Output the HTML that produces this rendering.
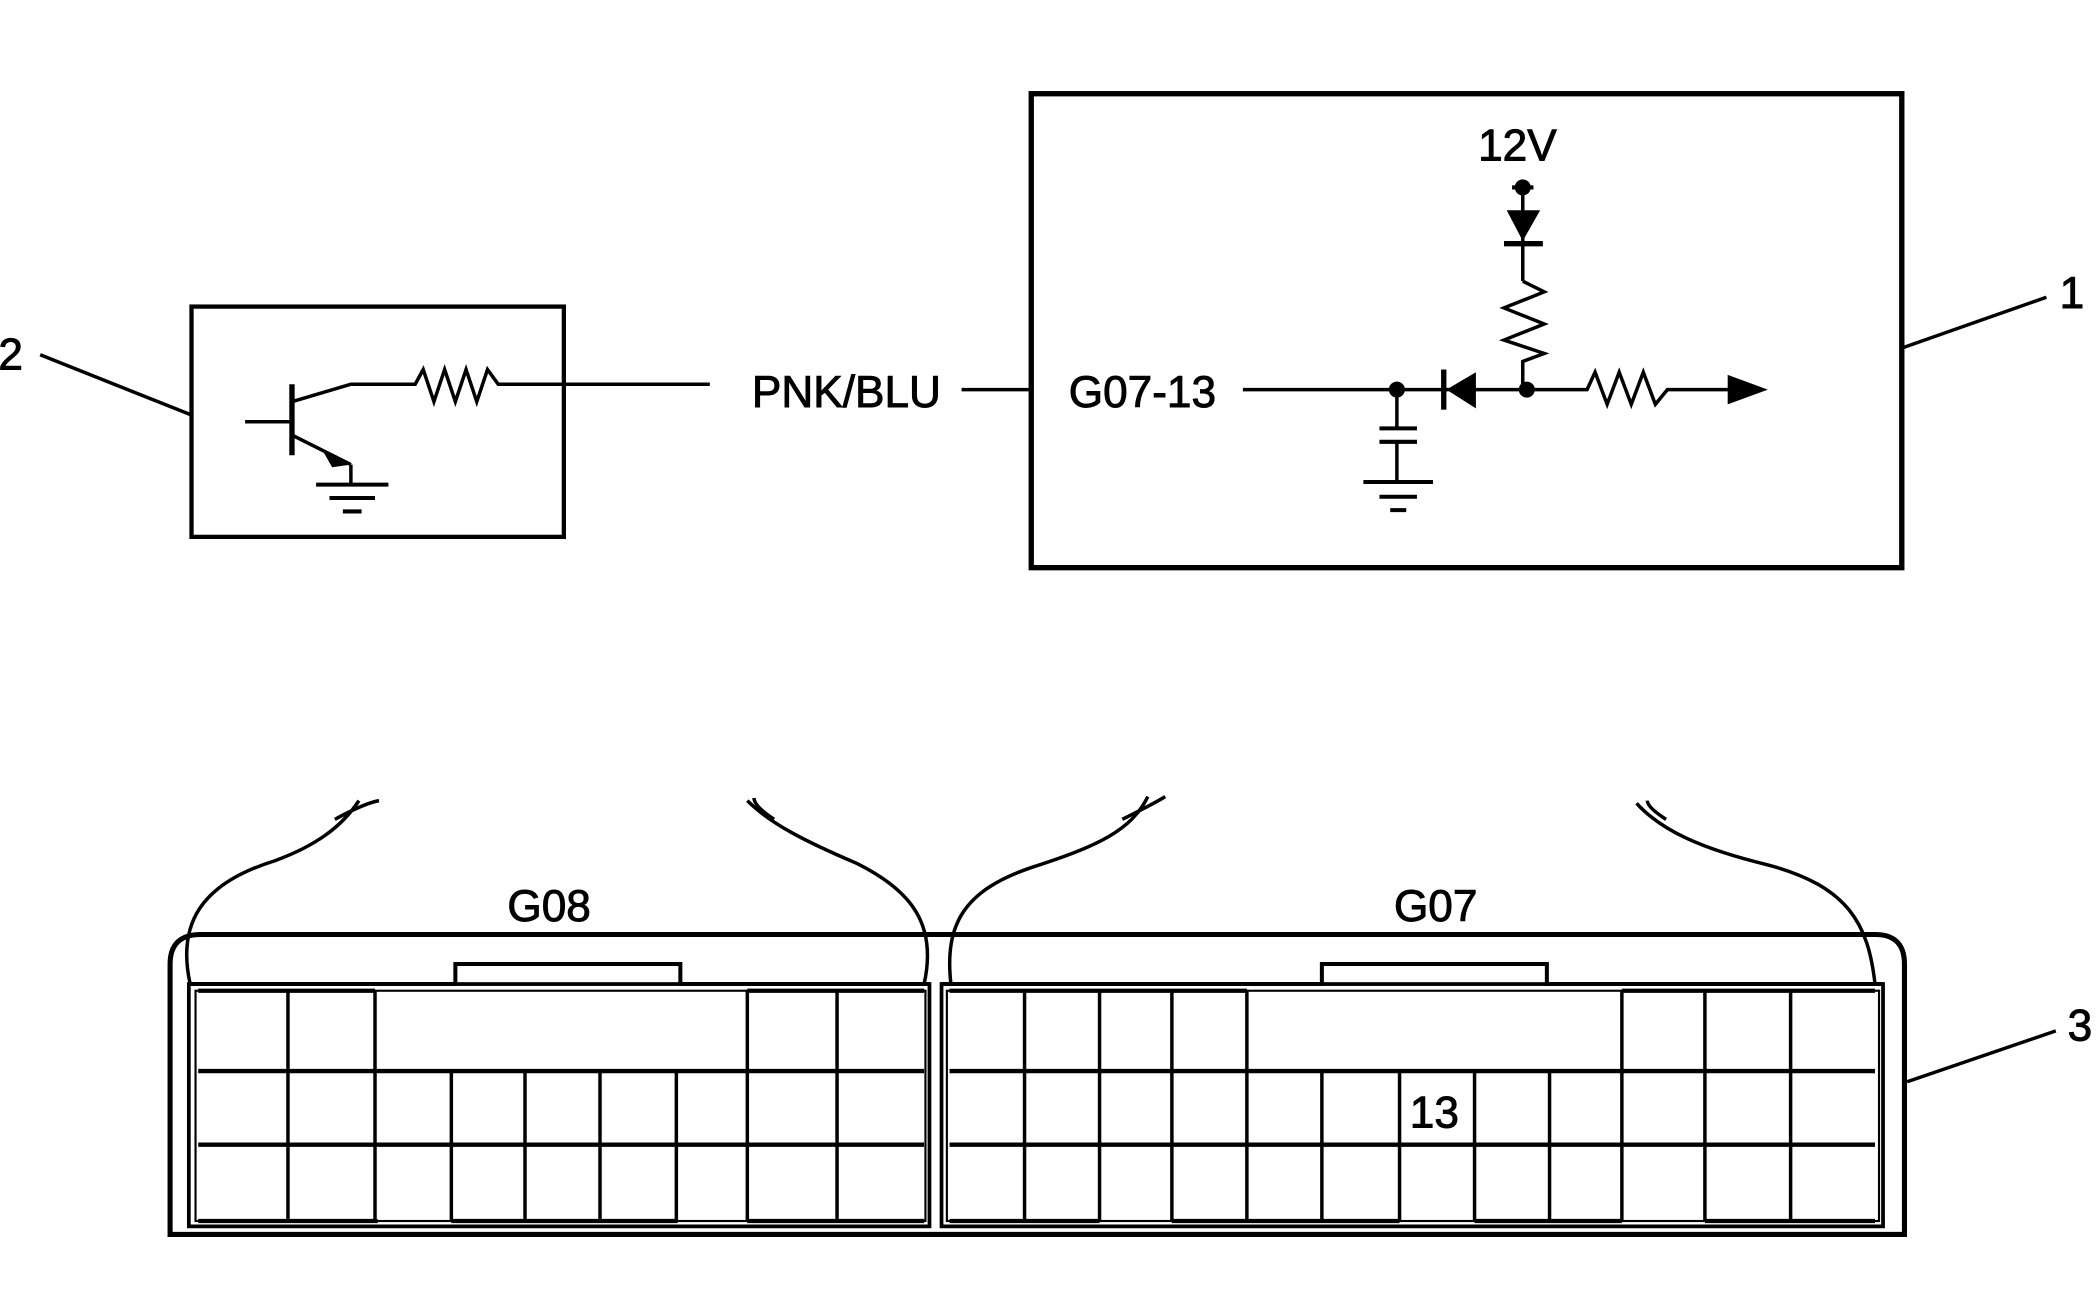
<!DOCTYPE html>
<html><head><meta charset="utf-8"><style>html,body{margin:0;padding:0;background:#fff}svg{display:block}</style></head>
<body>
<svg width="2100" height="1300" viewBox="0 0 1568 971" preserveAspectRatio="none" xmlns="http://www.w3.org/2000/svg" font-family="Liberation Sans, Arial, sans-serif">
<g fill="none" stroke="#000" stroke-width="2.6">
<!-- Box 2 -->
<rect x="143" y="229" width="278" height="172" stroke-width="3.2"/>
<line x1="30" y1="265" x2="143" y2="310"/>
<line x1="183" y1="315" x2="218" y2="315"/>
<line x1="218" y1="287" x2="218" y2="340" stroke-width="4"/>
<polyline points="218,300 262,287 310,287 316,276 324,300 332,276 340,300 348,276 356,300 364,276 372,287 530,287"/>
<line x1="218" y1="325" x2="262" y2="347"/>
<line x1="262" y1="347" x2="262" y2="362"/>
<line x1="236" y1="362" x2="290" y2="362" stroke-width="3"/>
<line x1="246" y1="372" x2="280" y2="372" stroke-width="3"/>
<line x1="256" y1="382" x2="270" y2="382" stroke-width="3"/>
<line x1="718" y1="291" x2="768" y2="291"/>
<!-- Box 1 -->
<rect x="770" y="70" width="650" height="354" stroke-width="4"/>
<line x1="1420" y1="260" x2="1528" y2="222"/>
<line x1="928" y1="291" x2="1140" y2="291"/>
<line x1="1043" y1="291" x2="1043" y2="320"/>
<line x1="1030" y1="320" x2="1058" y2="320" stroke-width="3"/>
<line x1="1030" y1="330" x2="1058" y2="330" stroke-width="3"/>
<line x1="1043" y1="330" x2="1043" y2="360"/>
<line x1="1018" y1="360" x2="1070" y2="360" stroke-width="3"/>
<line x1="1030" y1="371" x2="1058" y2="371" stroke-width="3"/>
<line x1="1038" y1="381" x2="1050" y2="381" stroke-width="3"/>
<line x1="1078" y1="276" x2="1078" y2="306" stroke-width="4"/>
<line x1="1137" y1="140" x2="1137" y2="210"/>
<line x1="1123" y1="182" x2="1152" y2="182" stroke-width="4"/>
<polyline points="1137,210 1153,218 1123,230 1153,242 1123,254 1153,264 1137,270 1137,291"/>
<polyline points="1140,291 1185,291 1191,278 1200,302 1209,278 1218,302 1227,278 1236,302 1245,291 1292,291"/>
<!-- connector -->
<path d="M127,922 L127,720 Q127,698 150,698 L1400,698 Q1422,698 1422,720 L1422,922 Z" stroke-width="3.8"/>
<line x1="1424" y1="808" x2="1535" y2="770"/>
<rect x="141" y="735" width="553" height="181" stroke-width="2.8"/>
<rect x="146" y="740" width="545" height="172" stroke-width="1.6"/>
<rect x="703" y="735" width="703" height="181" stroke-width="2.8"/>
<rect x="707" y="740" width="696" height="172" stroke-width="1.6"/>
<polyline points="141,735 340,735 340,720 508,720 508,735 694,735" stroke-width="3"/>
<polyline points="703,735 987,735 987,720 1155,720 1155,735 1406,735" stroke-width="3"/>
<g stroke-width="3.2">
<line x1="148" y1="740" x2="280" y2="740"/><line x1="558" y1="740" x2="690" y2="740"/>
<line x1="148" y1="800" x2="690" y2="800"/><line x1="148" y1="855" x2="690" y2="855"/>
<line x1="148" y1="912" x2="282" y2="912"/><line x1="337" y1="912" x2="506" y2="912"/><line x1="558" y1="912" x2="690" y2="912"/>
<line x1="709" y1="740" x2="931" y2="740"/><line x1="1211" y1="740" x2="1400" y2="740"/>
<line x1="709" y1="800" x2="1400" y2="800"/><line x1="709" y1="855" x2="1400" y2="855"/>
<line x1="709" y1="912" x2="821" y2="912"/><line x1="875" y1="912" x2="1045" y2="912"/><line x1="1101" y1="912" x2="1211" y2="912"/><line x1="1273" y1="912" x2="1400" y2="912"/>
</g>
<g stroke-width="2.6">
<line x1="215" y1="740" x2="215" y2="912"/><line x1="280" y1="740" x2="280" y2="912"/>
<line x1="337" y1="800" x2="337" y2="912"/><line x1="392" y1="800" x2="392" y2="912"/><line x1="448" y1="800" x2="448" y2="912"/><line x1="505" y1="800" x2="505" y2="912"/>
<line x1="558" y1="740" x2="558" y2="912"/><line x1="625" y1="740" x2="625" y2="912"/>
<line x1="765" y1="740" x2="765" y2="912"/><line x1="821" y1="740" x2="821" y2="912"/><line x1="875" y1="740" x2="875" y2="912"/><line x1="931" y1="740" x2="931" y2="912"/>
<line x1="987" y1="800" x2="987" y2="912"/><line x1="1045" y1="800" x2="1045" y2="912"/><line x1="1101" y1="800" x2="1101" y2="912"/><line x1="1157" y1="800" x2="1157" y2="912"/>
<line x1="1211" y1="740" x2="1211" y2="912"/><line x1="1273" y1="740" x2="1273" y2="912"/><line x1="1337" y1="740" x2="1337" y2="912"/>
</g>
<!-- curves -->
<path d="M142,735 C132,690 150,660 205,643 C235,632 255,618 268,598"/>
<path d="M250,612 Q272,600 283,598"/>
<path d="M690,735 C700,690 680,665 640,645 C600,628 575,615 558,598"/>
<path d="M578,612 Q563,602 563,596"/>
<path d="M710,735 C705,690 720,665 770,648 C820,632 845,620 857,595"/>
<path d="M838,612 Q862,600 870,595"/>
<path d="M1400,735 C1395,690 1380,662 1320,646 C1270,634 1240,620 1222,600"/>
<path d="M1244,612 Q1230,603 1230,598"/>
</g>
<g fill="#000">
<path d="M240,335 L262,347 L248,349 Z"/>
<circle cx="1043" cy="291" r="6"/><circle cx="1140" cy="291" r="6"/><circle cx="1137" cy="140" r="6"/>
<line x1="1129" y1="140" x2="1145" y2="140" stroke="#000" stroke-width="3"/>
<path d="M1080,291 L1102,278 L1102,305 Z"/>
<path d="M1125,157 L1150,157 L1137,180 Z"/>
<path d="M1320,291 L1290,280 L1290,302 Z"/>
</g>
<g fill="#000" stroke="#000" stroke-width="0.7" font-size="33">
<text x="8" y="276" text-anchor="middle">2</text>
<text x="1547" y="230" text-anchor="middle">1</text>
<text x="1553" y="777" text-anchor="middle">3</text>
<text x="632" y="304" text-anchor="middle">PNK/BLU</text>
<text x="853" y="304" text-anchor="middle">G07-13</text>
<text x="1133" y="120" text-anchor="middle">12V</text>
<text x="410" y="688" text-anchor="middle">G08</text>
<text x="1072" y="688" text-anchor="middle">G07</text>
<text x="1071" y="842" text-anchor="middle">13</text>
</g>
</svg>
</body></html>
